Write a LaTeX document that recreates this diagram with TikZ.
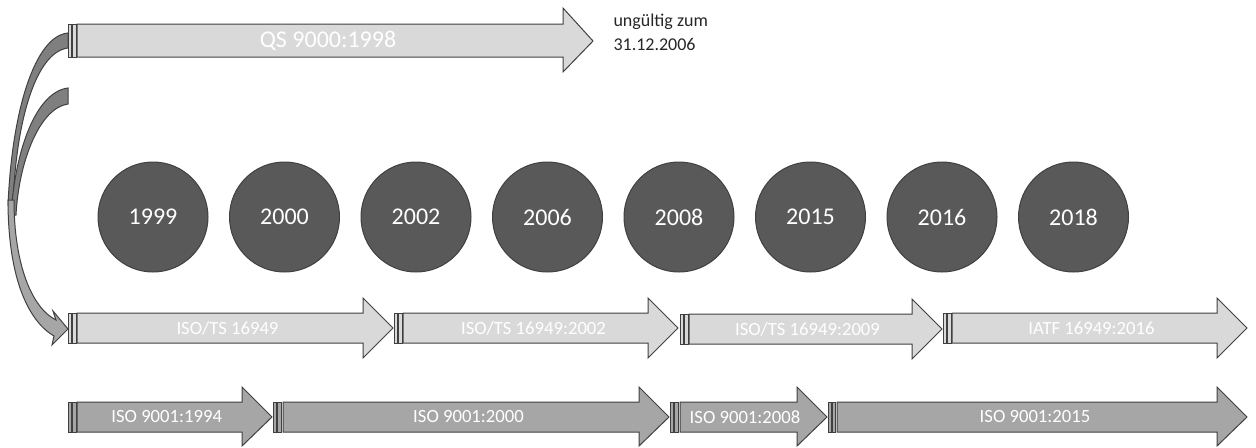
\documentclass[tikz,border=0pt]{standalone}
\usepackage{fontspec}
\setmainfont{Carlito}
\definecolor{outl}{HTML}{404040}
\definecolor{lightfill}{HTML}{D9D9D9}
\definecolor{darkfill}{HTML}{A6A6A6}
\definecolor{backfill}{HTML}{7F7F7F}
\definecolor{circfill}{HTML}{595959}
\tikzset{every picture/.style={line width=0.75pt}}
\tikzset{
  lightarr/.style={draw=outl, fill=lightfill},
  darkarr/.style={draw=outl, fill=darkfill},
  backarr/.style={draw=outl, fill=backfill},
  yearcirc/.style={circle, draw=outl, fill=circfill, minimum size=82.5pt, inner sep=0pt, text=white, font=\fontsize{18}{20}\selectfont},
  arrlbl/.style={text=white, inner sep=0.75pt, font=\fontsize{14}{16}\selectfont},
}

\begin{document}
\begin{tikzpicture}[x=0.75pt,y=0.75pt,yscale=-1,xscale=1]
\useasboundingbox (0,0) rectangle (1256,447);

%Curved Right Arrow [back, from QS]
\draw [backarr] (68,33) .. controls (35,36) and (12,110) .. (8,205) -- (13,205) .. controls (16,120) and (36,52) .. (68,48) -- cycle ;
%Curved Right Arrow [back, second]
\draw [backarr] (68,88) .. controls (36,92) and (15,150) .. (11,215) -- (16,215) .. controls (19,160) and (40,108) .. (68,104) -- cycle ;
%Curved Right Arrow [front]
\draw [darkarr] (8,200) .. controls (8,282) and (30,322) .. (54,336) -- (52,345) -- (68,329) -- (53,311) -- (56,320) .. controls (32,308) and (14,265) .. (14,200) -- cycle ;

%Shape: Striped Right Arrow [QS 9000]
\draw [lightarr] (68,24) rectangle (71,57) ;
\draw [lightarr] (72,24) rectangle (76,57) ;
\draw [lightarr] (77,24) -- (563,24) -- (563,8) -- (593,41) -- (563,72) -- (563,57) -- (77,57) -- cycle ;

%Shape: Striped Right Arrow [ISO/TS 16949]
\draw [lightarr] (68,313) rectangle (71,343) ;
\draw [lightarr] (72,313) rectangle (76,343) ;
\draw [lightarr] (77,313) -- (363,313) -- (363,298) -- (393,328) -- (363,358) -- (363,343) -- (77,343) -- cycle ;
%Shape: Striped Right Arrow [ISO/TS 16949:2002]
\draw [lightarr] (394,313) rectangle (397,343) ;
\draw [lightarr] (398,313) rectangle (402,343) ;
\draw [lightarr] (403,313) -- (648,313) -- (648,298) -- (678,328) -- (648,358) -- (648,343) -- (403,343) -- cycle ;
%Shape: Striped Right Arrow [ISO/TS 16949:2009]
\draw [lightarr] (680,314) rectangle (683,344) ;
\draw [lightarr] (684,314) rectangle (688,344) ;
\draw [lightarr] (689,314) -- (912,314) -- (912,299) -- (942,329) -- (912,359) -- (912,344) -- (689,344) -- cycle ;
%Shape: Striped Right Arrow [IATF 16949:2016]
\draw [lightarr] (943,313) rectangle (946,343) ;
\draw [lightarr] (947,313) rectangle (951,343) ;
\draw [lightarr] (952,313) -- (1217,313) -- (1217,298) -- (1247,328) -- (1217,358) -- (1217,343) -- (952,343) -- cycle ;

%Shape: Striped Right Arrow [ISO 9001:1994]
\draw [darkarr] (68,402) rectangle (71,432) ;
\draw [darkarr] (72,402) rectangle (76,432) ;
\draw [darkarr] (77,402) -- (242,402) -- (242,387) -- (272,417) -- (242,446) -- (242,432) -- (77,432) -- cycle ;
%Shape: Striped Right Arrow [ISO 9001:2000]
\draw [darkarr] (273,402) rectangle (276,432) ;
\draw [darkarr] (277,402) rectangle (281,432) ;
\draw [darkarr] (283,402) -- (639,402) -- (639,387) -- (669,417) -- (639,446) -- (639,432) -- (283,432) -- cycle ;
%Shape: Striped Right Arrow [ISO 9001:2008]
\draw [darkarr] (670,402) rectangle (673,432) ;
\draw [darkarr] (674,402) rectangle (678,432) ;
\draw [darkarr] (680,402) -- (797,402) -- (797,387) -- (827,417) -- (797,446) -- (797,432) -- (680,432) -- cycle ;
%Shape: Striped Right Arrow [ISO 9001:2015]
\draw [darkarr] (828,402) rectangle (831,432) ;
\draw [darkarr] (832,402) rectangle (835,432) ;
\draw [darkarr] (837,402) -- (1217,402) -- (1217,387) -- (1247,417) -- (1217,446) -- (1217,432) -- (837,432) -- cycle ;

% Arrow labels
\node [arrlbl, font=\fontsize{18}{20}\selectfont] (qs) at (328,41) {QS 9000:1998};
\node [arrlbl] (ts1) at (227.5,328) {ISO/TS 16949};
\node [arrlbl] (ts2) at (533.5,328) {ISO/TS 16949:2002};
\node [arrlbl] (ts3) at (807.5,329) {ISO/TS 16949:2009};
\node [arrlbl] (ts4) at (1091.5,328) {IATF 16949:2016};
\node [arrlbl] (iso1) at (166.7,417) {ISO 9001:1994};
\node [arrlbl] (iso2) at (468.5,417) {ISO 9001:2000};
\node [arrlbl] (iso3) at (745,417) {ISO 9001:2008};
\node [arrlbl] (iso4) at (1035,417) {ISO 9001:2015};

% Text Node
\node [anchor=north west, align=left, inner sep=0pt, text=black!85, font=\fontsize{13.5}{18}\selectfont] (note) at (613,13) {ungültig zum\\31.12.2006};

% Year circles
\node [yearcirc] (y1999) at (153,217) {1999};
\node [yearcirc] (y2000) at (284.5,217) {2000};
\node [yearcirc] (y2002) at (416,217) {2002};
\node [yearcirc] (y2006) at (547.5,217) {2006};
\node [yearcirc] (y2008) at (679,217) {2008};
\node [yearcirc] (y2015) at (810.5,217) {2015};
\node [yearcirc] (y2016) at (942,217) {2016};
\node [yearcirc] (y2018) at (1073.5,217) {2018};

\end{tikzpicture}
\end{document}
